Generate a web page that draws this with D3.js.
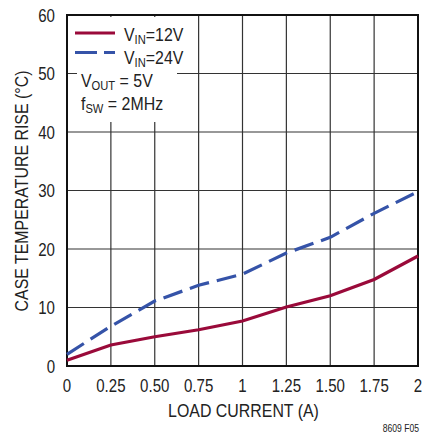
<!DOCTYPE html>
<html><head><meta charset="utf-8">
<script src="https://cdn.jsdelivr.net/npm/d3@7"></script>
<style>body{margin:0;background:#fff}svg{display:block}text{font-family:"Liberation Sans",Arial,sans-serif;fill:#222}</style>
</head><body><svg id="c" width="422" height="433"></svg>
<script>
const current = [0, 0.25, 0.5, 0.75, 1, 1.25, 1.5, 1.75, 2];
const rise12 = [1.0, 3.6, 5.0, 6.2, 7.7, 10.1, 12.0, 14.8, 18.8];
const rise24 = [2.0, 6.8, 11.1, 13.8, 15.7, 19.3, 22.0, 26.1, 29.8];
const xTickLabels = ["0","0.25","0.50","0.75","1","1.25","1.50","1.75","2"];
const yTicks = [0,10,20,30,40,50,60];

const svg = d3.select("#c");
const L=67,R=418,T=15,B=366;
const x = d3.scaleLinear().domain([0,2]).range([L,R]);
const y = d3.scaleLinear().domain([0,60]).range([B,T]);
const SX = 0.86; // condensed look

// grid
svg.append("g").selectAll("line").data(current).join("line")
  .attr("x1",d=>x(d)).attr("x2",d=>x(d)).attr("y1",T).attr("y2",B)
  .attr("stroke","#333").attr("stroke-width",1.2);
svg.append("g").selectAll("line").data(yTicks).join("line")
  .attr("y1",d=>y(d)).attr("y2",d=>y(d)).attr("x1",L).attr("x2",R)
  .attr("stroke","#333").attr("stroke-width",1.2);

// legend background
svg.append("rect").attr("x",L+1).attr("y",T+2).attr("width",x(0.75)-L-3).attr("height",y(50)-T-2.5).attr("fill","#fff");
svg.append("rect").attr("x",77).attr("y",y(50)-10).attr("width",100).attr("height",y(40)-10-(y(50)-10)).attr("fill","#fff");

// frame
svg.append("rect").attr("x",L).attr("y",T).attr("width",R-L).attr("height",B-T)
  .attr("fill","none").attr("stroke","#111").attr("stroke-width",2);

// lines
const line = (arr)=>d3.line().x((d,i)=>x(current[i])).y(d=>y(d))(arr);
svg.append("path").attr("d",line(rise24)).attr("fill","none").attr("stroke","#3553a8")
  .attr("stroke-width",3.2).attr("stroke-dasharray","20,8");
svg.append("path").attr("d",line(rise12)).attr("fill","none").attr("stroke","#9a0a3a")
  .attr("stroke-width",3.2);

// helper for condensed text
function ctext(g, px, py, str, size, anchor, rot){
  return g.append("text")
    .attr("transform",`translate(${px},${py})${rot?` rotate(${rot})`:""} scale(${SX},1)`)
    .attr("text-anchor",anchor||"start").attr("font-size",size).text(str);
}

const fs=17.5;
const gx = svg.append("g");
current.forEach((d,i)=>ctext(gx, x(d), B+26, xTickLabels[i], fs, "middle"));
const gy = svg.append("g");
yTicks.forEach(d=>ctext(gy, L-12, y(d)+6.5, d, fs, "end"));

ctext(svg, (L+R)/2+1, 417, "LOAD CURRENT (A)", 18.5, "middle");
ctext(svg, 28, 191, "CASE TEMPERATURE RISE  (°C)", 18.5, "middle", -90);
ctext(svg, R+1, 432, "8609 F05", 10, "end");

// legend
const lg = svg.append("g");
lg.append("line").attr("x1",75).attr("x2",115).attr("y1",33).attr("y2",33).attr("stroke","#9a0a3a").attr("stroke-width",3.2);
lg.append("line").attr("x1",75).attr("x2",115).attr("y1",52.5).attr("y2",52.5).attr("stroke","#3553a8").attr("stroke-width",3.2).attr("stroke-dasharray","22,7");
function sub(yy, xx, a, s, b){
  const t = ctext(lg, xx, yy, "", 18.5, "start");
  t.append("tspan").text(a);
  t.append("tspan").attr("font-size",13).attr("dy",3).text(s);
  t.append("tspan").attr("dy",-3).text(b);
}
sub(41,124,"V","IN","=12V");
sub(63.5,124,"V","IN","=24V");
sub(87,81,"V","OUT"," = 5V");
sub(110,81,"f","SW"," = 2MHz");
</script></body></html>
